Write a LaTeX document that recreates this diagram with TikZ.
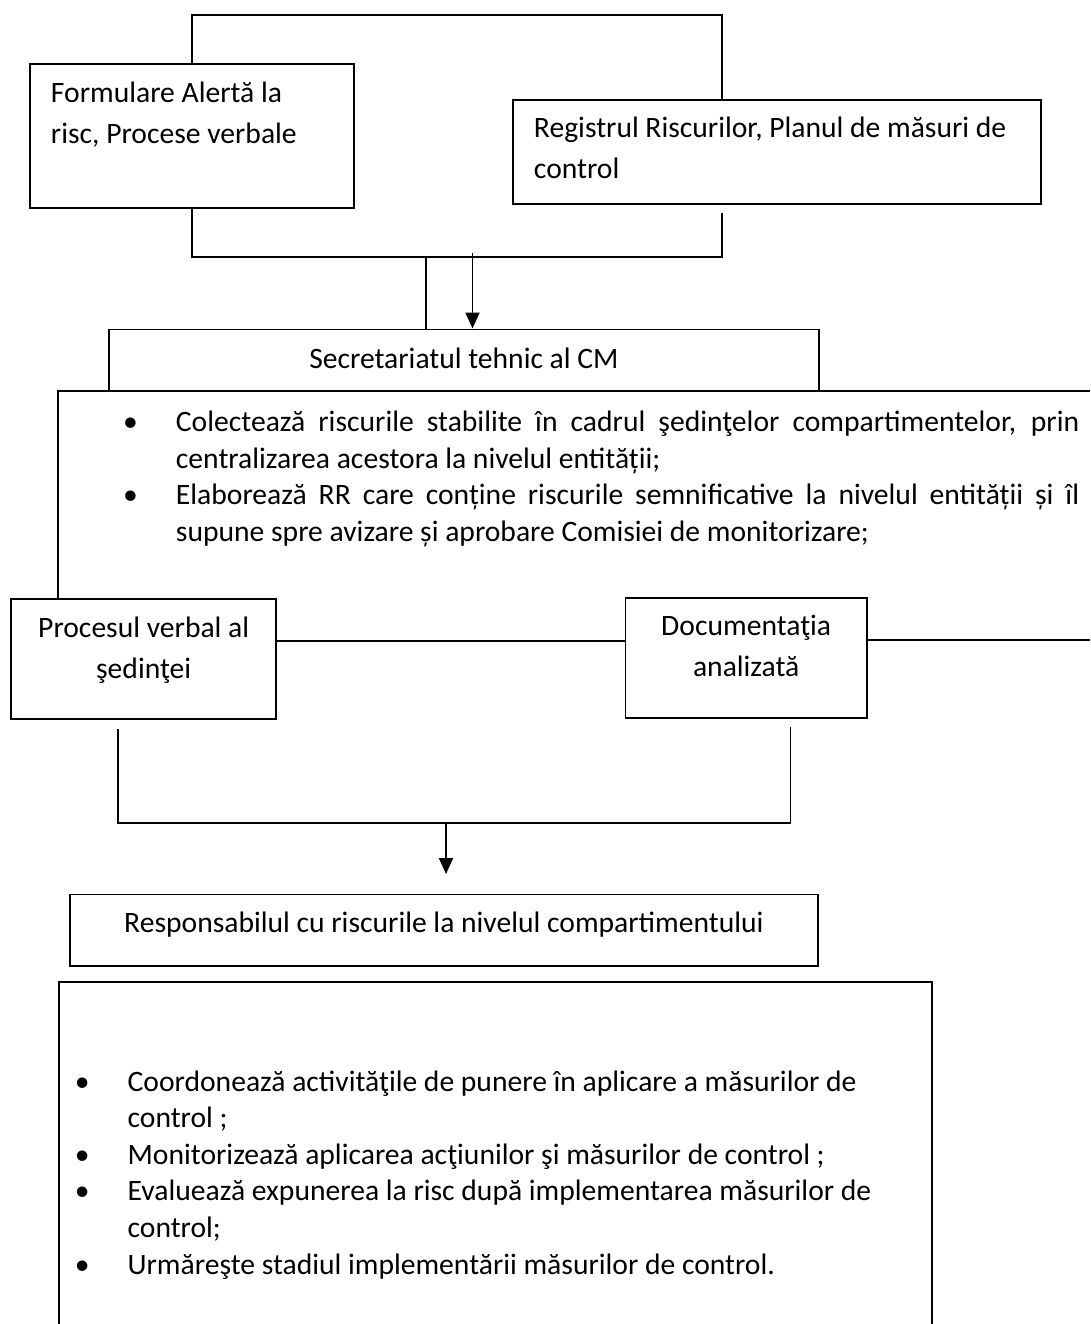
\documentclass[tikz,border=0pt]{standalone}
\usepackage{fontspec}
\setmainfont{Carlito}
\usetikzlibrary{arrows.meta}
\newcommand{\boxfont}{\fontsize{16.85}{23}\selectfont}
\newcommand{\listfont}{\fontsize{16.85}{20.8}\selectfont}
\newcommand{\itm}{\noindent\llap{\textbullet\hspace{0.76cm}}}
\begin{document}
\begin{tikzpicture}[x=0.02cm, y=-0.02cm, line width=1.1pt,
    box/.style={draw, inner sep=0pt, anchor=north west, font=\boxfont,
                execute at begin node=\boxfont},
    list/.style={inner sep=0pt, anchor=base west, font=\listfont,
                 execute at begin node=\listfont},
    arr/.style={-{Triangle[length=0.32cm, width=0.28cm]}},
  ]
  \path[use as bounding box] (0,0) rectangle (1090,1324);
  % source documents
  \node[box, text width=5.64cm, inner xsep=0.42cm, align=flush left,
        text height=0.774cm, text depth=2.106cm] (fa) at (29,63)
        {Formulare Alertă la\\ risc, Procese verbale};
  \node[box, text width=9.72cm, inner xsep=0.42cm, align=flush left,
        text height=0.754cm, text depth=1.326cm] (rr) at (512,99)
        {Registrul Riscurilor, Planul de măsuri de\\ control};
  \node[box, minimum width=14.2cm, text height=0.776cm, text depth=0.464cm]
        (st) at (108,328.5) {Secretariatul tehnic al CM};
  % links round the two source boxes
  \coordinate (rtop) at (722,15);
  \coordinate (rbot) at (722,257);
  \coordinate (rstub) at (722,213);
  \coordinate (jn1) at (426,257);
  \coordinate (ain) at (472.5,253);
  \draw (fa.north) |- (rtop) -- (rtop |- rr.north);
  \draw (fa.south) |- (rbot) -- (rstub);
  \draw (jn1) -- (jn1 |- st.north);
  \draw[arr] (ain) -- (ain |- st.north);
  % tasks of the secretariat
  \node[list, text width=18.07cm, align=justify] (col) at (175,431.7)
    {\itm Colectează riscurile stabilite în cadrul şedinţelor compartimentelor, prin\linebreak
     centralizarea acestora la nivelul entității;\par
     \itm Elaborează RR care conține riscurile semnificative la nivelul entității și îl\linebreak
     supune spre avizare și aprobare Comisiei de monitorizare;};
  \node[box, text width=5.31cm, align=flush center,
        text height=0.774cm, text depth=1.626cm] (pv) at (10,598)
        {Procesul verbal al\\ şedinţei};
  \node[box, text width=4.83cm, align=flush center,
        text height=0.766cm, text depth=1.634cm] (dc) at (624.5,596.7)
        {Documentaţia\\ analizată};
  \coordinate (pl) at (58,391);
  \coordinate (pr) at (1090,391);
  \coordinate (lv) at (0,641);
  \coordinate (lr) at (1090,640);
  \draw (pr) -- (pl) -- (pl |- pv.north);
  \draw (pv.east |- lv) -- (dc.west |- lv);
  \draw (dc.east |- lr) -- (lr);
  % towards the compartment
  \coordinate (pvs) at (118,729);
  \coordinate (dcs) at (790.5,727);
  \coordinate (jn2) at (446,823);
  \coordinate (rsin) at (446,874);
  \draw (pvs) |- (jn2) -| (dcs);
  \draw[arr] (jn2) -- (rsin);
  \node[box, minimum width=14.95cm, text height=0.764cm, text depth=0.666cm]
        (rs) at (69.3,893.5) {Responsabilul cu riscurile la nivelul compartimentului};
  \coordinate (fl) at (59,982);
  \coordinate (fr) at (931.7,982);
  \coordinate (fe) at (0,1324);
  \draw (fl |- fe) -- (fl) -- (fr) -- (fr |- fe);
  \node[list, text width=16cm, align=flush left] (act) at (126.7,1091.3)
    {\itm Coordonează activităţile de punere în aplicare a măsurilor de\\ control ;\par
     \itm Monitorizează aplicarea acţiunilor şi măsurilor de control ;\par
     \itm Evaluează expunerea la risc după implementarea măsurilor de\\ control;\par
     \itm Urmăreşte stadiul implementării măsurilor de control.};
\end{tikzpicture}
\end{document}
